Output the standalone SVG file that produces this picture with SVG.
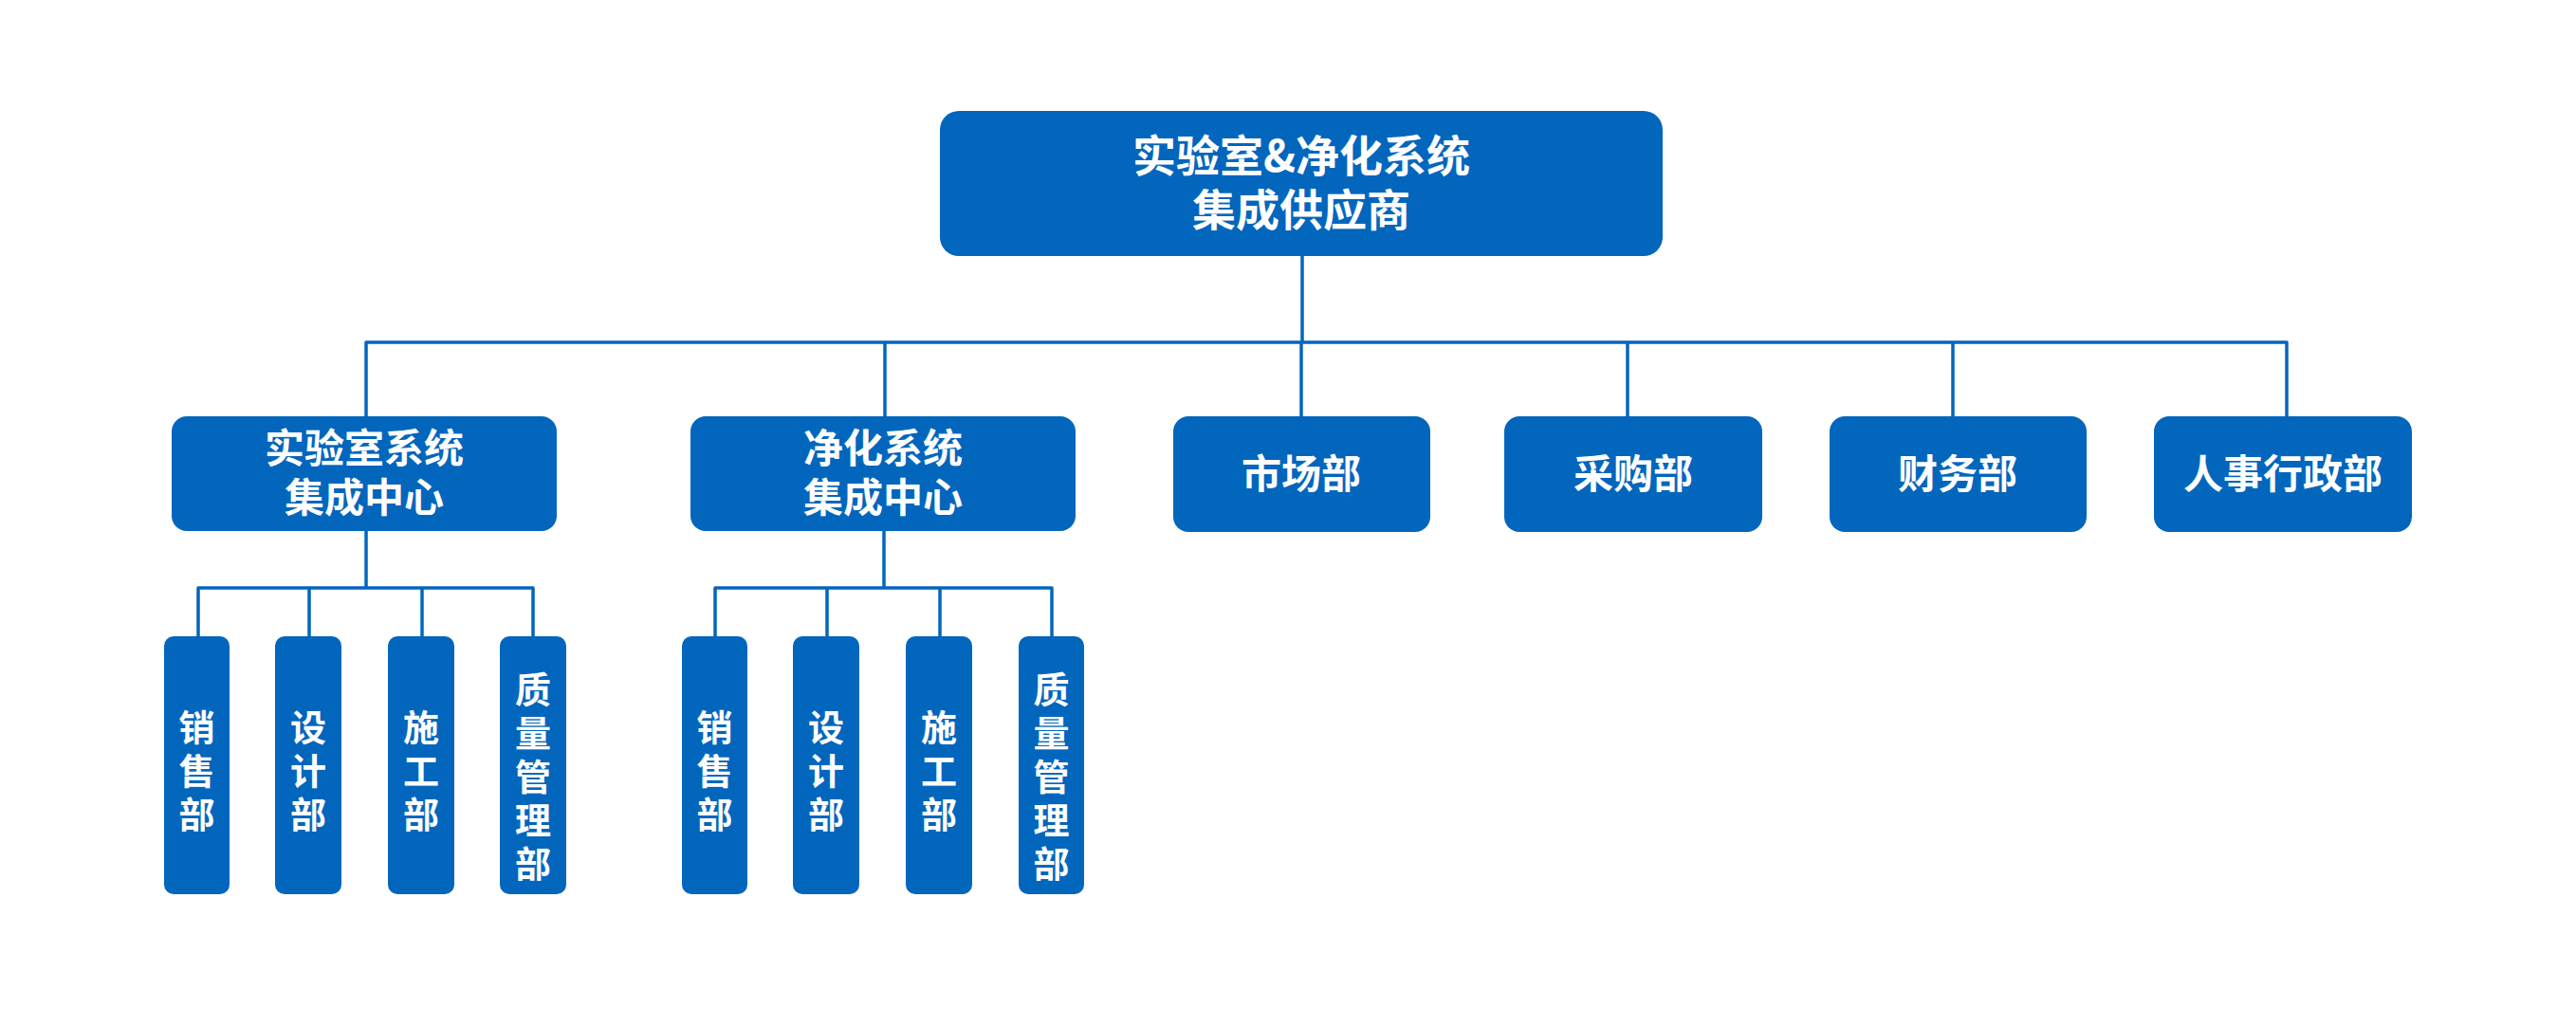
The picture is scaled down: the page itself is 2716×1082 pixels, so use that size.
<svg xmlns="http://www.w3.org/2000/svg" width="2716" height="1082" viewBox="0 0 2716 1082">
<style>
.box{fill:#0366BD;}
.t{fill:#fff;font-family:"Noto Sans CJK SC","Noto Sans",sans-serif;font-weight:bold;text-anchor:middle;}
.v{fill:#fff;font-family:"Noto Sans CJK SC","Noto Sans",sans-serif;font-weight:bold;text-anchor:middle;writing-mode:vertical-rl;font-size:38px;letter-spacing:8px;}
.l{fill:none;stroke:#0366BD;stroke-width:3.5;stroke-linejoin:round;}
</style>
<rect width="2716" height="1082" fill="#fff"/>
<g id="connectors">
<path class="l" d="M1373 270V361"/>
<path class="l" d="M386 439V361H2411V439"/>
<path class="l" d="M933 361V439"/>
<path class="l" d="M1372 361V439"/>
<path class="l" d="M1716 361V439"/>
<path class="l" d="M2059 361V439"/>
<path class="l" d="M386 560V620"/>
<path class="l" d="M209 671V620H562V671"/>
<path class="l" d="M326 620V671"/>
<path class="l" d="M445 620V671"/>
<path class="l" d="M932 560V620"/>
<path class="l" d="M754 671V620H1109V671"/>
<path class="l" d="M872 620V671"/>
<path class="l" d="M991 620V671"/>
</g>
<g id="root">
<rect class="box" x="991" y="117" width="762" height="153" rx="20"/>
<text class="t" font-size="46"><tspan x="1372" y="181">实验室&amp;净化系统</tspan><tspan x="1372" y="238">集成供应商</tspan></text>
</g>
<g id="lab">
<rect class="box" x="181" y="439" width="406" height="121" rx="16"/>
<text class="t" font-size="42"><tspan x="384" y="488">实验室系统</tspan><tspan x="384" y="540">集成中心</tspan></text>
</g>
<g id="clean">
<rect class="box" x="728" y="439" width="406" height="121" rx="16"/>
<text class="t" font-size="42"><tspan x="931" y="488">净化系统</tspan><tspan x="931" y="540">集成中心</tspan></text>
</g>
<g id="market">
<rect class="box" x="1237" y="439" width="271" height="122" rx="16"/>
<text class="t" font-size="42" x="1372" y="515">市场部</text>
</g>
<g id="purchase">
<rect class="box" x="1586" y="439" width="272" height="122" rx="16"/>
<text class="t" font-size="42" x="1722" y="515">采购部</text>
</g>
<g id="finance">
<rect class="box" x="1929" y="439" width="271" height="122" rx="16"/>
<text class="t" font-size="42" x="2064" y="515">财务部</text>
</g>
<g id="hr">
<rect class="box" x="2271" y="439" width="272" height="122" rx="16"/>
<text class="t" font-size="42" x="2407" y="515">人事行政部</text>
</g>
<g id="lab-sales">
<rect class="box" x="173" y="671" width="69" height="272" rx="10"/>
<text class="v" x="207.5" y="817">销售部</text>
</g>
<g id="lab-design">
<rect class="box" x="290" y="671" width="70" height="272" rx="10"/>
<text class="v" x="325" y="817">设计部</text>
</g>
<g id="lab-build">
<rect class="box" x="409" y="671" width="70" height="272" rx="10"/>
<text class="v" x="444" y="817">施工部</text>
</g>
<g id="lab-qa">
<rect class="box" x="527" y="671" width="70" height="272" rx="10"/>
<text class="v" x="562" y="823">质量管理部</text>
</g>
<g id="clean-sales">
<rect class="box" x="719" y="671" width="69" height="272" rx="10"/>
<text class="v" x="753.5" y="817">销售部</text>
</g>
<g id="clean-design">
<rect class="box" x="836" y="671" width="70" height="272" rx="10"/>
<text class="v" x="871" y="817">设计部</text>
</g>
<g id="clean-build">
<rect class="box" x="955" y="671" width="70" height="272" rx="10"/>
<text class="v" x="990" y="817">施工部</text>
</g>
<g id="clean-qa">
<rect class="box" x="1074" y="671" width="69" height="272" rx="10"/>
<text class="v" x="1108.5" y="823">质量管理部</text>
</g>
</svg>
